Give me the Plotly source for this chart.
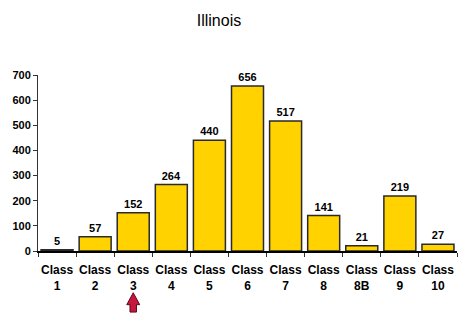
import plotly.graph_objects as go

categories = ["Class<br>1", "Class<br>2", "Class<br>3", "Class<br>4", "Class<br>5", "Class<br>6",
              "Class<br>7", "Class<br>8", "Class<br>8B", "Class<br>9", "Class<br>10"]
values = [5, 57, 152, 264, 440, 656, 517, 141, 21, 219, 27]
y_ticks = [0, 100, 200, 300, 400, 500, 600, 700]
highlight_index = 2

fig = go.Figure(go.Bar(
    x=categories, y=values,
    marker=dict(color="#FFD200", line=dict(color="#2a2a2a", width=1.5)),
    text=[str(v) for v in values], textposition="outside",
    textfont=dict(family="Arial, Liberation Sans", size=11, color="black", weight="bold"),
    cliponaxis=False,
))

# red arrow under highlighted class
h = highlight_index
fig.add_shape(
    type="path", xref="x", yref="paper",
    path=(f"M {h-0.085} -0.347 L {h+0.085} -0.347 L {h+0.085} -0.305 L {h+0.17} -0.305 "
          f"L {h} -0.237 L {h-0.17} -0.305 L {h-0.085} -0.305 Z"),
    fillcolor="#C8173F", line=dict(color="#5a0a1a", width=1),
)

fig.update_layout(
    width=462, height=316,
    margin=dict(l=38, r=5, t=75, b=65),
    paper_bgcolor="white", plot_bgcolor="white",
    title=dict(text="Illinois", x=0.474, xanchor="center", y=0.935, yanchor="middle",
               font=dict(family="Arial, Liberation Sans", size=16, color="black")),
    bargap=0.16,
    showlegend=False,
    xaxis=dict(showline=True, linecolor="black", linewidth=1.5, ticks="outside",
               tickson="boundaries", ticklen=4, tickcolor="#333", tickangle=0,
               ticklabelstandoff=7,
               tickfont=dict(family="Arial, Liberation Sans", size=12, color="black", weight="bold"),
               showgrid=False),
    yaxis=dict(range=[0, 700], tickvals=y_ticks, showline=True, linecolor="#333", linewidth=1,
               ticks="outside", ticklen=4, tickcolor="#333", showgrid=False, zeroline=False,
               tickfont=dict(family="Arial, Liberation Sans", size=11, color="black", weight="bold")),
)

fig.write_html("out.html")
